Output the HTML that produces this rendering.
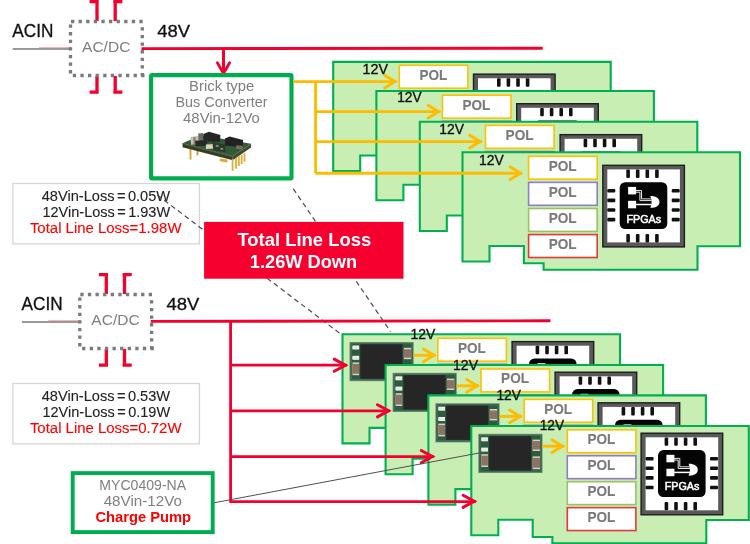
<!DOCTYPE html>
<html><head><meta charset="utf-8"><style>html,body{margin:0;padding:0;background:#fff;overflow:hidden}svg{display:block;will-change:transform}</style></head><body>
<svg width="750" height="544" viewBox="0 0 750 544" font-family="'Liberation Sans', sans-serif">
<rect width="750" height="544" fill="#fff"/>
<text x="12.30" y="37.30" font-size="17.74" fill="#111" font-weight="normal" textLength="41.09" lengthAdjust="spacingAndGlyphs" stroke="#111" stroke-width="0.3">ACIN</text>
<line x1="12.7" y1="49" x2="71.5" y2="49" stroke="#9a9a9a" stroke-width="2.2"/>
<line x1="39" y1="47.5" x2="71" y2="47.5" stroke="#f4a0a8" stroke-width="0.8"/>
<path d="M89.6 1.6 H98.7 M97 0 V21" stroke="#f3002e" stroke-width="3.3" fill="none"/>
<path d="M89.6 92.2 H98.7 M97 76 V93.8" stroke="#f3002e" stroke-width="3.3" fill="none"/>
<path d="M113.3 1.6 H122.4 M115.2 0 V21" stroke="#f3002e" stroke-width="3.3" fill="none"/>
<path d="M113.3 92.2 H122.4 M115.2 76 V93.8" stroke="#f3002e" stroke-width="3.3" fill="none"/>
<path d="M71 21.5 H145 M72.8 75.5 H145" stroke="#7a7a7a" stroke-width="3.3" stroke-dasharray="3.3 4.3" fill="none"/>
<path d="M70.5 24.5 V77 M142.3 27.3 V77" stroke="#7a7a7a" stroke-width="3.3" stroke-dasharray="3.3 4.3" fill="none"/>
<text x="82.00" y="52.00" font-size="15.42" fill="#7f7f7f" font-weight="normal" textLength="48.42" lengthAdjust="spacingAndGlyphs">AC/DC</text>
<text x="157.20" y="37.00" font-size="16.72" fill="#111" font-weight="normal" textLength="32.89" lengthAdjust="spacingAndGlyphs" stroke="#111" stroke-width="0.3">48V</text>
<line x1="141.5" y1="48.6" x2="542.7" y2="48.2" stroke="#f3002e" stroke-width="2.9"/>
<line x1="223.5" y1="48.6" x2="223.5" y2="73" stroke="#f3002e" stroke-width="3"/>
<path d="M217.4 62.8 L223.5 73.6 L229.6 62.8" stroke="#f3002e" stroke-width="2.8" fill="none" stroke-linecap="round"/>
<rect x="151.1" y="75.1" width="140.4" height="103.3" rx="1" fill="#fff" stroke="#00ad4e" stroke-width="4.1"/>
<text x="189.10" y="91.30" font-size="14.70" fill="#7f7f7f" font-weight="normal" textLength="65.10" lengthAdjust="spacingAndGlyphs">Brick type</text>
<text x="175.40" y="106.80" font-size="14.55" fill="#7f7f7f" font-weight="normal" textLength="92.13" lengthAdjust="spacingAndGlyphs">Bus Converter</text>
<text x="183.10" y="122.50" font-size="14.55" fill="#7f7f7f" font-weight="normal" textLength="76.67" lengthAdjust="spacingAndGlyphs">48Vin-12Vo</text>
<g>
<polygon points="189.51,146.54 191.44,146.54 191.44,159.58 189.51,159.58" fill="#d8a828"/>
<polygon points="196.54,149.94 198.36,149.94 198.36,155.39 196.54,155.39" fill="#c89a30"/>
<polygon points="182.48,143.14 232.71,156.29 232.71,160.15 182.48,147.22" fill="#3b3a29"/>
<polygon points="232.71,156.29 251.08,143.71 251.08,147.45 232.71,160.15" fill="#46492f"/>
<polygon points="182.48,143.14 201.08,135.20 251.08,143.71 232.71,156.29" fill="#315a38"/>
<polygon points="182.48,143.14 232.71,156.29 232.71,157.20 182.48,144.05" fill="#3d6a40"/>
<polygon points="219.78,158.45 227.38,159.58 227.38,162.41 219.78,161.28" fill="#d8aa35"/>
<polygon points="231.69,159.01 233.50,159.01 233.50,170.92 231.69,170.92" fill="#dcae3a"/>
<polygon points="235.09,157.88 236.90,157.88 236.90,168.65 235.09,168.65" fill="#dcae3a"/>
<polygon points="237.93,156.18 239.74,156.18 239.74,166.04 237.93,166.04" fill="#dcae3a"/>
<polygon points="240.76,154.71 242.57,154.71 242.57,164.12 240.76,164.12" fill="#dcae3a"/>
<polygon points="243.59,153.34 245.41,153.34 245.41,161.85 243.59,161.85" fill="#dcae3a"/>
<polygon points="190.31,136.90 200.51,135.43 201.30,143.71 191.10,144.84" fill="#c5c1b5"/>
<polygon points="193.14,137.24 195.63,137.02 196.09,144.05 193.59,144.27" fill="#85827a"/>
<polygon points="198.24,133.50 203.12,132.94 203.57,140.87 198.58,141.44" fill="#6a685e"/>
<polygon points="203.34,134.07 209.01,131.80 220.35,134.98 220.12,142.01 207.88,141.44 203.34,139.74" fill="#262626"/>
<polygon points="195.18,140.87 206.75,139.97 207.31,145.63 195.63,146.09" fill="#272727"/>
<polygon points="224.89,138.38 229.65,136.56 243.03,139.97 243.03,147.45 238.49,146.77 224.89,145.41" fill="#222"/>
<polygon points="205.84,144.50 214.68,144.05 214.91,148.58 206.07,149.04" fill="#dcd3b8"/>
<polygon points="236.22,145.18 242.80,145.63 242.80,149.38 236.22,149.04" fill="#7c6c58"/>
<polygon points="212.41,142.01 224.89,144.50 225.79,152.21 213.32,150.17" fill="#2c3a2c"/>
<polygon points="215.82,144.84 218.65,145.18 218.65,147.11 215.82,146.77" fill="#8a8a80"/>
<polygon points="220.35,147.68 223.19,148.13 223.19,149.94 220.35,149.49" fill="#8a8a80"/>
</g>
<rect x="12.9" y="183.5" width="186.5" height="60.4" fill="#fff" stroke="#d6d6d6" stroke-width="1.3"/>
<text x="41.70" y="200.80" font-size="14.70" fill="#222" font-weight="normal" textLength="128.46" lengthAdjust="spacingAndGlyphs" stroke="#222" stroke-width="0.1">48Vin-Loss = 0.05W</text>
<text x="42.40" y="216.80" font-size="14.70" fill="#222" font-weight="normal" textLength="127.76" lengthAdjust="spacingAndGlyphs" stroke="#222" stroke-width="0.1">12Vin-Loss = 1.93W</text>
<text x="29.90" y="232.80" font-size="14.70" fill="#ff0000" font-weight="normal" textLength="151.60" lengthAdjust="spacingAndGlyphs" stroke="#ff0000" stroke-width="0.1">Total Line Loss=1.98W</text>
<path d="M333.20 61.85 L610.70 61.85 L610.70 155.85 L568.20 155.85 L568.20 179.25 L414.30 179.25 L414.30 172.85 L394.60 172.85 L394.60 155.55 L360.20 155.55 L360.20 171.05 L333.20 171.05 Z" fill="#c8eeb4" stroke="#00b050" stroke-width="2.1"/>
<rect x="399.30" y="65.30" width="68.6" height="22.9" fill="#fff" stroke="#ffc000" stroke-width="1.6"/>
<text x="419.40" y="79.60" font-size="14.26" fill="#7a7a7a" font-weight="bold" textLength="27.91" lengthAdjust="spacingAndGlyphs" stroke="#7a7a7a" stroke-width="0.1">POL</text>
<rect x="399.30" y="91.40" width="68.6" height="22.9" fill="#fff" stroke="#8f7dc6" stroke-width="1.6"/>
<text x="419.40" y="105.70" font-size="14.26" fill="#7a7a7a" font-weight="bold" textLength="27.91" lengthAdjust="spacingAndGlyphs" stroke="#7a7a7a" stroke-width="0.1">POL</text>
<rect x="399.30" y="117.50" width="68.6" height="22.9" fill="#fff" stroke="#9cc068" stroke-width="1.6"/>
<text x="419.40" y="131.80" font-size="14.26" fill="#7a7a7a" font-weight="bold" textLength="27.91" lengthAdjust="spacingAndGlyphs" stroke="#7a7a7a" stroke-width="0.1">POL</text>
<rect x="399.30" y="143.60" width="68.6" height="22.9" fill="#fff" stroke="#e23a3a" stroke-width="1.6"/>
<text x="419.40" y="157.90" font-size="14.26" fill="#7a7a7a" font-weight="bold" textLength="27.91" lengthAdjust="spacingAndGlyphs" stroke="#7a7a7a" stroke-width="0.1">POL</text>
<rect x="472.80" y="73.45" width="83" height="83" fill="#1e1e1e"/>
<rect x="474.20" y="74.85" width="80.2" height="80.2" fill="#595959"/>
<rect x="478.00" y="78.25" width="72.6" height="73" fill="#fff"/>
<rect x="497.00" y="78.35" width="3.6" height="8.4" rx="1" fill="#111"/>
<rect x="497.00" y="142.85" width="3.6" height="8.4" rx="1" fill="#111"/>
<rect x="478.00" y="97.85" width="8" height="3.6" rx="1" fill="#111"/>
<rect x="542.40" y="97.85" width="8" height="3.6" rx="1" fill="#111"/>
<rect x="506.60" y="78.35" width="3.6" height="8.4" rx="1" fill="#111"/>
<rect x="506.60" y="142.85" width="3.6" height="8.4" rx="1" fill="#111"/>
<rect x="478.00" y="107.45" width="8" height="3.6" rx="1" fill="#111"/>
<rect x="542.40" y="107.45" width="8" height="3.6" rx="1" fill="#111"/>
<rect x="516.20" y="78.35" width="3.6" height="8.4" rx="1" fill="#111"/>
<rect x="516.20" y="142.85" width="3.6" height="8.4" rx="1" fill="#111"/>
<rect x="478.00" y="117.05" width="8" height="3.6" rx="1" fill="#111"/>
<rect x="542.40" y="117.05" width="8" height="3.6" rx="1" fill="#111"/>
<rect x="525.80" y="78.35" width="3.6" height="8.4" rx="1" fill="#111"/>
<rect x="525.80" y="142.85" width="3.6" height="8.4" rx="1" fill="#111"/>
<rect x="478.00" y="126.65" width="8" height="3.6" rx="1" fill="#111"/>
<rect x="542.40" y="126.65" width="8" height="3.6" rx="1" fill="#111"/>
<rect x="490.40" y="91.05" width="47.6" height="46.9" rx="5.5" fill="#050505"/>
<rect x="498.80" y="95.75" width="8" height="7.5" fill="#fff"/>
<rect x="498.80" y="109.65" width="8" height="7.5" fill="#fff"/>
<path d="M506.40 99.35 H512.20 V107.75 H522.40 M506.40 101.05 H510.60 V109.45 H522.40" stroke="#fff" stroke-width="0.9" fill="none"/>
<path d="M506.40 113.35 H522.40" stroke="#fff" stroke-width="1.5" fill="none"/>
<path d="M521.00 104.75 C526.40 104.55 530.20 107.05 530.20 110.75 C530.20 114.45 526.40 116.85 521.00 116.65 C522.80 113.05 522.80 108.45 521.00 104.75 Z" fill="#fff"/>
<text x="497.10" y="131.35" font-size="11.51" fill="#fff" font-weight="normal" textLength="34.68" lengthAdjust="spacingAndGlyphs" stroke="#fff" stroke-width="0.55">FPGAs</text>
<path d="M376.40 91.00 L653.90 91.00 L653.90 185.00 L611.40 185.00 L611.40 208.40 L457.50 208.40 L457.50 202.00 L437.80 202.00 L437.80 184.70 L403.40 184.70 L403.40 200.20 L376.40 200.20 Z" fill="#c8eeb4" stroke="#00b050" stroke-width="2.1"/>
<rect x="442.40" y="95.20" width="68.6" height="22.9" fill="#fff" stroke="#ffc000" stroke-width="1.6"/>
<text x="462.50" y="109.50" font-size="14.26" fill="#7a7a7a" font-weight="bold" textLength="27.91" lengthAdjust="spacingAndGlyphs" stroke="#7a7a7a" stroke-width="0.1">POL</text>
<rect x="442.40" y="121.30" width="68.6" height="22.9" fill="#fff" stroke="#8f7dc6" stroke-width="1.6"/>
<text x="462.50" y="135.60" font-size="14.26" fill="#7a7a7a" font-weight="bold" textLength="27.91" lengthAdjust="spacingAndGlyphs" stroke="#7a7a7a" stroke-width="0.1">POL</text>
<rect x="442.40" y="147.40" width="68.6" height="22.9" fill="#fff" stroke="#9cc068" stroke-width="1.6"/>
<text x="462.50" y="161.70" font-size="14.26" fill="#7a7a7a" font-weight="bold" textLength="27.91" lengthAdjust="spacingAndGlyphs" stroke="#7a7a7a" stroke-width="0.1">POL</text>
<rect x="442.40" y="173.50" width="68.6" height="22.9" fill="#fff" stroke="#e23a3a" stroke-width="1.6"/>
<text x="462.50" y="187.80" font-size="14.26" fill="#7a7a7a" font-weight="bold" textLength="27.91" lengthAdjust="spacingAndGlyphs" stroke="#7a7a7a" stroke-width="0.1">POL</text>
<rect x="516.00" y="103.00" width="83" height="83" fill="#1e1e1e"/>
<rect x="517.40" y="104.40" width="80.2" height="80.2" fill="#595959"/>
<rect x="521.20" y="107.80" width="72.6" height="73" fill="#fff"/>
<rect x="540.20" y="107.90" width="3.6" height="8.4" rx="1" fill="#111"/>
<rect x="540.20" y="172.40" width="3.6" height="8.4" rx="1" fill="#111"/>
<rect x="521.20" y="127.40" width="8" height="3.6" rx="1" fill="#111"/>
<rect x="585.60" y="127.40" width="8" height="3.6" rx="1" fill="#111"/>
<rect x="549.80" y="107.90" width="3.6" height="8.4" rx="1" fill="#111"/>
<rect x="549.80" y="172.40" width="3.6" height="8.4" rx="1" fill="#111"/>
<rect x="521.20" y="137.00" width="8" height="3.6" rx="1" fill="#111"/>
<rect x="585.60" y="137.00" width="8" height="3.6" rx="1" fill="#111"/>
<rect x="559.40" y="107.90" width="3.6" height="8.4" rx="1" fill="#111"/>
<rect x="559.40" y="172.40" width="3.6" height="8.4" rx="1" fill="#111"/>
<rect x="521.20" y="146.60" width="8" height="3.6" rx="1" fill="#111"/>
<rect x="585.60" y="146.60" width="8" height="3.6" rx="1" fill="#111"/>
<rect x="569.00" y="107.90" width="3.6" height="8.4" rx="1" fill="#111"/>
<rect x="569.00" y="172.40" width="3.6" height="8.4" rx="1" fill="#111"/>
<rect x="521.20" y="156.20" width="8" height="3.6" rx="1" fill="#111"/>
<rect x="585.60" y="156.20" width="8" height="3.6" rx="1" fill="#111"/>
<rect x="533.60" y="120.60" width="47.6" height="46.9" rx="5.5" fill="#050505"/>
<rect x="542.00" y="125.30" width="8" height="7.5" fill="#fff"/>
<rect x="542.00" y="139.20" width="8" height="7.5" fill="#fff"/>
<path d="M549.60 128.90 H555.40 V137.30 H565.60 M549.60 130.60 H553.80 V139.00 H565.60" stroke="#fff" stroke-width="0.9" fill="none"/>
<path d="M549.60 142.90 H565.60" stroke="#fff" stroke-width="1.5" fill="none"/>
<path d="M564.20 134.30 C569.60 134.10 573.40 136.60 573.40 140.30 C573.40 144.00 569.60 146.40 564.20 146.20 C566.00 142.60 566.00 138.00 564.20 134.30 Z" fill="#fff"/>
<text x="540.30" y="160.90" font-size="11.51" fill="#fff" font-weight="normal" textLength="34.68" lengthAdjust="spacingAndGlyphs" stroke="#fff" stroke-width="0.55">FPGAs</text>
<path d="M419.80 121.75 L697.30 121.75 L697.30 215.75 L654.80 215.75 L654.80 239.15 L500.90 239.15 L500.90 232.75 L481.20 232.75 L481.20 215.45 L446.80 215.45 L446.80 230.95 L419.80 230.95 Z" fill="#c8eeb4" stroke="#00b050" stroke-width="2.1"/>
<rect x="485.50" y="125.40" width="68.6" height="22.9" fill="#fff" stroke="#ffc000" stroke-width="1.6"/>
<text x="505.60" y="139.70" font-size="14.26" fill="#7a7a7a" font-weight="bold" textLength="27.91" lengthAdjust="spacingAndGlyphs" stroke="#7a7a7a" stroke-width="0.1">POL</text>
<rect x="485.50" y="151.50" width="68.6" height="22.9" fill="#fff" stroke="#8f7dc6" stroke-width="1.6"/>
<text x="505.60" y="165.80" font-size="14.26" fill="#7a7a7a" font-weight="bold" textLength="27.91" lengthAdjust="spacingAndGlyphs" stroke="#7a7a7a" stroke-width="0.1">POL</text>
<rect x="485.50" y="177.60" width="68.6" height="22.9" fill="#fff" stroke="#9cc068" stroke-width="1.6"/>
<text x="505.60" y="191.90" font-size="14.26" fill="#7a7a7a" font-weight="bold" textLength="27.91" lengthAdjust="spacingAndGlyphs" stroke="#7a7a7a" stroke-width="0.1">POL</text>
<rect x="485.50" y="203.70" width="68.6" height="22.9" fill="#fff" stroke="#e23a3a" stroke-width="1.6"/>
<text x="505.60" y="218.00" font-size="14.26" fill="#7a7a7a" font-weight="bold" textLength="27.91" lengthAdjust="spacingAndGlyphs" stroke="#7a7a7a" stroke-width="0.1">POL</text>
<rect x="559.40" y="133.95" width="83" height="83" fill="#1e1e1e"/>
<rect x="560.80" y="135.35" width="80.2" height="80.2" fill="#595959"/>
<rect x="564.60" y="138.75" width="72.6" height="73" fill="#fff"/>
<rect x="583.60" y="138.85" width="3.6" height="8.4" rx="1" fill="#111"/>
<rect x="583.60" y="203.35" width="3.6" height="8.4" rx="1" fill="#111"/>
<rect x="564.60" y="158.35" width="8" height="3.6" rx="1" fill="#111"/>
<rect x="629.00" y="158.35" width="8" height="3.6" rx="1" fill="#111"/>
<rect x="593.20" y="138.85" width="3.6" height="8.4" rx="1" fill="#111"/>
<rect x="593.20" y="203.35" width="3.6" height="8.4" rx="1" fill="#111"/>
<rect x="564.60" y="167.95" width="8" height="3.6" rx="1" fill="#111"/>
<rect x="629.00" y="167.95" width="8" height="3.6" rx="1" fill="#111"/>
<rect x="602.80" y="138.85" width="3.6" height="8.4" rx="1" fill="#111"/>
<rect x="602.80" y="203.35" width="3.6" height="8.4" rx="1" fill="#111"/>
<rect x="564.60" y="177.55" width="8" height="3.6" rx="1" fill="#111"/>
<rect x="629.00" y="177.55" width="8" height="3.6" rx="1" fill="#111"/>
<rect x="612.40" y="138.85" width="3.6" height="8.4" rx="1" fill="#111"/>
<rect x="612.40" y="203.35" width="3.6" height="8.4" rx="1" fill="#111"/>
<rect x="564.60" y="187.15" width="8" height="3.6" rx="1" fill="#111"/>
<rect x="629.00" y="187.15" width="8" height="3.6" rx="1" fill="#111"/>
<rect x="577.00" y="151.55" width="47.6" height="46.9" rx="5.5" fill="#050505"/>
<rect x="585.40" y="156.25" width="8" height="7.5" fill="#fff"/>
<rect x="585.40" y="170.15" width="8" height="7.5" fill="#fff"/>
<path d="M593.00 159.85 H598.80 V168.25 H609.00 M593.00 161.55 H597.20 V169.95 H609.00" stroke="#fff" stroke-width="0.9" fill="none"/>
<path d="M593.00 173.85 H609.00" stroke="#fff" stroke-width="1.5" fill="none"/>
<path d="M607.60 165.25 C613.00 165.05 616.80 167.55 616.80 171.25 C616.80 174.95 613.00 177.35 607.60 177.15 C609.40 173.55 609.40 168.95 607.60 165.25 Z" fill="#fff"/>
<text x="583.70" y="191.85" font-size="11.51" fill="#fff" font-weight="normal" textLength="34.68" lengthAdjust="spacingAndGlyphs" stroke="#fff" stroke-width="0.55">FPGAs</text>
<path d="M462.50 152.30 L740.00 152.30 L740.00 246.30 L697.50 246.30 L697.50 269.70 L543.60 269.70 L543.60 263.30 L523.90 263.30 L523.90 246.00 L489.50 246.00 L489.50 261.50 L462.50 261.50 Z" fill="#c8eeb4" stroke="#00b050" stroke-width="2.1"/>
<rect x="528.60" y="156.30" width="68.6" height="22.9" fill="#fff" stroke="#ffc000" stroke-width="1.6"/>
<text x="548.70" y="170.60" font-size="14.26" fill="#7a7a7a" font-weight="bold" textLength="27.91" lengthAdjust="spacingAndGlyphs" stroke="#7a7a7a" stroke-width="0.1">POL</text>
<rect x="528.60" y="182.40" width="68.6" height="22.9" fill="#fff" stroke="#8f7dc6" stroke-width="1.6"/>
<text x="548.70" y="196.70" font-size="14.26" fill="#7a7a7a" font-weight="bold" textLength="27.91" lengthAdjust="spacingAndGlyphs" stroke="#7a7a7a" stroke-width="0.1">POL</text>
<rect x="528.60" y="208.50" width="68.6" height="22.9" fill="#fff" stroke="#9cc068" stroke-width="1.6"/>
<text x="548.70" y="222.80" font-size="14.26" fill="#7a7a7a" font-weight="bold" textLength="27.91" lengthAdjust="spacingAndGlyphs" stroke="#7a7a7a" stroke-width="0.1">POL</text>
<rect x="528.60" y="234.60" width="68.6" height="22.9" fill="#fff" stroke="#e23a3a" stroke-width="1.6"/>
<text x="548.70" y="248.90" font-size="14.26" fill="#7a7a7a" font-weight="bold" textLength="27.91" lengthAdjust="spacingAndGlyphs" stroke="#7a7a7a" stroke-width="0.1">POL</text>
<rect x="602.10" y="164.60" width="83" height="83" fill="#1e1e1e"/>
<rect x="603.50" y="166.00" width="80.2" height="80.2" fill="#595959"/>
<rect x="607.30" y="169.40" width="72.6" height="73" fill="#fff"/>
<rect x="626.30" y="169.50" width="3.6" height="8.4" rx="1" fill="#111"/>
<rect x="626.30" y="234.00" width="3.6" height="8.4" rx="1" fill="#111"/>
<rect x="607.30" y="189.00" width="8" height="3.6" rx="1" fill="#111"/>
<rect x="671.70" y="189.00" width="8" height="3.6" rx="1" fill="#111"/>
<rect x="635.90" y="169.50" width="3.6" height="8.4" rx="1" fill="#111"/>
<rect x="635.90" y="234.00" width="3.6" height="8.4" rx="1" fill="#111"/>
<rect x="607.30" y="198.60" width="8" height="3.6" rx="1" fill="#111"/>
<rect x="671.70" y="198.60" width="8" height="3.6" rx="1" fill="#111"/>
<rect x="645.50" y="169.50" width="3.6" height="8.4" rx="1" fill="#111"/>
<rect x="645.50" y="234.00" width="3.6" height="8.4" rx="1" fill="#111"/>
<rect x="607.30" y="208.20" width="8" height="3.6" rx="1" fill="#111"/>
<rect x="671.70" y="208.20" width="8" height="3.6" rx="1" fill="#111"/>
<rect x="655.10" y="169.50" width="3.6" height="8.4" rx="1" fill="#111"/>
<rect x="655.10" y="234.00" width="3.6" height="8.4" rx="1" fill="#111"/>
<rect x="607.30" y="217.80" width="8" height="3.6" rx="1" fill="#111"/>
<rect x="671.70" y="217.80" width="8" height="3.6" rx="1" fill="#111"/>
<rect x="619.70" y="182.20" width="47.6" height="46.9" rx="5.5" fill="#050505"/>
<rect x="628.10" y="186.90" width="8" height="7.5" fill="#fff"/>
<rect x="628.10" y="200.80" width="8" height="7.5" fill="#fff"/>
<path d="M635.70 190.50 H641.50 V198.90 H651.70 M635.70 192.20 H639.90 V200.60 H651.70" stroke="#fff" stroke-width="0.9" fill="none"/>
<path d="M635.70 204.50 H651.70" stroke="#fff" stroke-width="1.5" fill="none"/>
<path d="M650.30 195.90 C655.70 195.70 659.50 198.20 659.50 201.90 C659.50 205.60 655.70 208.00 650.30 207.80 C652.10 204.20 652.10 199.60 650.30 195.90 Z" fill="#fff"/>
<text x="626.40" y="222.50" font-size="11.51" fill="#fff" font-weight="normal" textLength="34.68" lengthAdjust="spacingAndGlyphs" stroke="#fff" stroke-width="0.55">FPGAs</text>
<path d="M293.4 81.6 H396 M315.6 81.6 V173.2 M315.6 111.6 H440 M315.6 141.6 H482 M315.6 173.2 H522" stroke="#ffbb00" stroke-width="2.9" fill="none" stroke-linejoin="round"/>
<path d="M384.61 75.20 L395.11 81.60 L384.61 88.00" stroke="#ffbb00" stroke-width="2.9" fill="none" stroke-linecap="round" stroke-linejoin="miter"/>
<path d="M428.11 105.20 L438.61 111.60 L428.11 118.00" stroke="#ffbb00" stroke-width="2.9" fill="none" stroke-linecap="round" stroke-linejoin="miter"/>
<path d="M469.61 135.20 L480.11 141.60 L469.61 148.00" stroke="#ffbb00" stroke-width="2.9" fill="none" stroke-linecap="round" stroke-linejoin="miter"/>
<path d="M510.01 166.80 L520.51 173.20 L510.01 179.60" stroke="#ffbb00" stroke-width="2.9" fill="none" stroke-linecap="round" stroke-linejoin="miter"/>
<text x="362.50" y="73.60" font-size="14.26" fill="#111" font-weight="normal" textLength="25.49" lengthAdjust="spacingAndGlyphs" stroke="#111" stroke-width="0.35">12V</text>
<text x="397.20" y="102.40" font-size="14.26" fill="#111" font-weight="normal" textLength="24.39" lengthAdjust="spacingAndGlyphs" stroke="#111" stroke-width="0.35">12V</text>
<text x="439.30" y="133.60" font-size="14.26" fill="#111" font-weight="normal" textLength="24.69" lengthAdjust="spacingAndGlyphs" stroke="#111" stroke-width="0.35">12V</text>
<text x="479.10" y="165.20" font-size="14.41" fill="#111" font-weight="normal" textLength="24.69" lengthAdjust="spacingAndGlyphs" stroke="#111" stroke-width="0.35">12V</text>
<path d="M293.3 188.8 L390.5 331.6 M157.3 195 L340.9 334.2" stroke="#4a4a4a" stroke-width="1.2" stroke-dasharray="5 3.6" fill="none"/>
<rect x="204.1" y="221.9" width="199.4" height="56.8" fill="#f6002f"/>
<text x="237.40" y="246.00" font-size="18.90" fill="#fff" font-weight="bold" textLength="133.80" lengthAdjust="spacingAndGlyphs">Total Line Loss</text>
<text x="249.80" y="268.00" font-size="18.32" fill="#fff" font-weight="bold" textLength="107.39" lengthAdjust="spacingAndGlyphs">1.26W Down</text>
<text x="21.60" y="310.30" font-size="17.74" fill="#111" font-weight="normal" textLength="41.09" lengthAdjust="spacingAndGlyphs" stroke="#111" stroke-width="0.3">ACIN</text>
<line x1="22.0" y1="322" x2="80.8" y2="322" stroke="#9a9a9a" stroke-width="2.2"/>
<line x1="48.3" y1="320.5" x2="80.3" y2="320.5" stroke="#f4a0a8" stroke-width="0.8"/>
<path d="M98.89999999999999 274.6 H108.0 M106.3 273 V294" stroke="#f3002e" stroke-width="3.3" fill="none"/>
<path d="M98.89999999999999 365.2 H108.0 M106.3 349 V366.8" stroke="#f3002e" stroke-width="3.3" fill="none"/>
<path d="M122.6 274.6 H131.70000000000002 M124.5 273 V294" stroke="#f3002e" stroke-width="3.3" fill="none"/>
<path d="M122.6 365.2 H131.70000000000002 M124.5 349 V366.8" stroke="#f3002e" stroke-width="3.3" fill="none"/>
<path d="M80.3 294.5 H154.3 M82.1 348.5 H154.3" stroke="#7a7a7a" stroke-width="3.3" stroke-dasharray="3.3 4.3" fill="none"/>
<path d="M79.8 297.5 V350 M151.60000000000002 300.3 V350" stroke="#7a7a7a" stroke-width="3.3" stroke-dasharray="3.3 4.3" fill="none"/>
<text x="91.30" y="325.00" font-size="15.42" fill="#7f7f7f" font-weight="normal" textLength="48.42" lengthAdjust="spacingAndGlyphs">AC/DC</text>
<text x="166.50" y="310.00" font-size="16.72" fill="#111" font-weight="normal" textLength="32.89" lengthAdjust="spacingAndGlyphs" stroke="#111" stroke-width="0.3">48V</text>
<rect x="12.9" y="383.5" width="186.5" height="60.4" fill="#fff" stroke="#d6d6d6" stroke-width="1.3"/>
<text x="41.70" y="400.80" font-size="14.70" fill="#222" font-weight="normal" textLength="128.46" lengthAdjust="spacingAndGlyphs" stroke="#222" stroke-width="0.1">48Vin-Loss = 0.53W</text>
<text x="42.40" y="416.80" font-size="14.70" fill="#222" font-weight="normal" textLength="127.76" lengthAdjust="spacingAndGlyphs" stroke="#222" stroke-width="0.1">12Vin-Loss = 0.19W</text>
<text x="29.90" y="432.80" font-size="14.70" fill="#ff0000" font-weight="normal" textLength="151.60" lengthAdjust="spacingAndGlyphs" stroke="#ff0000" stroke-width="0.1">Total Line Loss=0.72W</text>
<line x1="150.8" y1="321.4" x2="550.4" y2="320.8" stroke="#f3002e" stroke-width="2.9"/>
<path d="M342.50 334.20 L620.00 334.20 L620.00 428.20 L577.50 428.20 L577.50 451.60 L423.60 451.60 L423.60 445.20 L403.90 445.20 L403.90 427.90 L369.50 427.90 L369.50 443.40 L342.50 443.40 Z" fill="#c8eeb4" stroke="#00b050" stroke-width="2.1"/>
<rect x="437.80" y="338.30" width="68.6" height="22.9" fill="#fff" stroke="#ffc000" stroke-width="1.6"/>
<text x="457.90" y="352.60" font-size="14.26" fill="#7a7a7a" font-weight="bold" textLength="27.91" lengthAdjust="spacingAndGlyphs" stroke="#7a7a7a" stroke-width="0.1">POL</text>
<rect x="437.80" y="364.25" width="68.6" height="22.9" fill="#fff" stroke="#8f7dc6" stroke-width="1.6"/>
<text x="457.90" y="378.55" font-size="14.26" fill="#7a7a7a" font-weight="bold" textLength="27.91" lengthAdjust="spacingAndGlyphs" stroke="#7a7a7a" stroke-width="0.1">POL</text>
<rect x="437.80" y="390.20" width="68.6" height="22.9" fill="#fff" stroke="#9cc068" stroke-width="1.6"/>
<text x="457.90" y="404.50" font-size="14.26" fill="#7a7a7a" font-weight="bold" textLength="27.91" lengthAdjust="spacingAndGlyphs" stroke="#7a7a7a" stroke-width="0.1">POL</text>
<rect x="437.80" y="416.15" width="68.6" height="22.9" fill="#fff" stroke="#e23a3a" stroke-width="1.6"/>
<text x="457.90" y="430.45" font-size="14.26" fill="#7a7a7a" font-weight="bold" textLength="27.91" lengthAdjust="spacingAndGlyphs" stroke="#7a7a7a" stroke-width="0.1">POL</text>
<rect x="511.40" y="340.90" width="83" height="83" fill="#1e1e1e"/>
<rect x="512.80" y="342.30" width="80.2" height="80.2" fill="#595959"/>
<rect x="516.60" y="345.70" width="72.6" height="73" fill="#fff"/>
<rect x="535.60" y="345.80" width="3.6" height="8.4" rx="1" fill="#111"/>
<rect x="535.60" y="410.30" width="3.6" height="8.4" rx="1" fill="#111"/>
<rect x="516.60" y="365.30" width="8" height="3.6" rx="1" fill="#111"/>
<rect x="581.00" y="365.30" width="8" height="3.6" rx="1" fill="#111"/>
<rect x="545.20" y="345.80" width="3.6" height="8.4" rx="1" fill="#111"/>
<rect x="545.20" y="410.30" width="3.6" height="8.4" rx="1" fill="#111"/>
<rect x="516.60" y="374.90" width="8" height="3.6" rx="1" fill="#111"/>
<rect x="581.00" y="374.90" width="8" height="3.6" rx="1" fill="#111"/>
<rect x="554.80" y="345.80" width="3.6" height="8.4" rx="1" fill="#111"/>
<rect x="554.80" y="410.30" width="3.6" height="8.4" rx="1" fill="#111"/>
<rect x="516.60" y="384.50" width="8" height="3.6" rx="1" fill="#111"/>
<rect x="581.00" y="384.50" width="8" height="3.6" rx="1" fill="#111"/>
<rect x="564.40" y="345.80" width="3.6" height="8.4" rx="1" fill="#111"/>
<rect x="564.40" y="410.30" width="3.6" height="8.4" rx="1" fill="#111"/>
<rect x="516.60" y="394.10" width="8" height="3.6" rx="1" fill="#111"/>
<rect x="581.00" y="394.10" width="8" height="3.6" rx="1" fill="#111"/>
<rect x="529.00" y="358.50" width="47.6" height="46.9" rx="5.5" fill="#050505"/>
<rect x="537.40" y="363.20" width="8" height="7.5" fill="#fff"/>
<rect x="537.40" y="377.10" width="8" height="7.5" fill="#fff"/>
<path d="M545.00 366.80 H550.80 V375.20 H561.00 M545.00 368.50 H549.20 V376.90 H561.00" stroke="#fff" stroke-width="0.9" fill="none"/>
<path d="M545.00 380.80 H561.00" stroke="#fff" stroke-width="1.5" fill="none"/>
<path d="M559.60 372.20 C565.00 372.00 568.80 374.50 568.80 378.20 C568.80 381.90 565.00 384.30 559.60 384.10 C561.40 380.50 561.40 375.90 559.60 372.20 Z" fill="#fff"/>
<text x="535.70" y="398.80" font-size="11.51" fill="#fff" font-weight="normal" textLength="34.68" lengthAdjust="spacingAndGlyphs" stroke="#fff" stroke-width="0.55">FPGAs</text>
<rect x="349.50" y="342.00" width="64.2" height="39.2" fill="#6d8d7d"/>
<rect x="350.40" y="342.90" width="62.4" height="37.4" fill="#2d5b3d"/>
<rect x="351.30" y="343.80" width="60.6" height="35.6" fill="none" stroke="#4f7a60" stroke-width="0.6"/>
<rect x="360.30" y="344.30" width="42.1" height="34.4" fill="#262626"/>
<rect x="352.50" y="345.50" width="6.6" height="4" fill="#f4f4f0"/>
<rect x="352.50" y="346.30" width="6.6" height="2.40" fill="#e8e8e2"/>
<rect x="352.50" y="355.80" width="6.6" height="4" fill="#f4f4f0"/>
<rect x="352.50" y="356.60" width="6.6" height="2.40" fill="#e8e8e2"/>
<rect x="352.50" y="362.40" width="6.6" height="12.8" fill="#d6d0c8"/>
<rect x="352.50" y="363.90" width="6.6" height="9.80" fill="#8c7262"/>
<rect x="403.80" y="347.80" width="7.4" height="11.4" fill="#d6d0c8"/>
<rect x="403.80" y="349.30" width="7.4" height="8.40" fill="#8c7262"/>
<rect x="403.80" y="364.60" width="7.4" height="12.8" fill="#d6d0c8"/>
<rect x="403.80" y="366.10" width="7.4" height="9.80" fill="#8c7262"/>
<path d="M385.60 365.00 L663.10 365.00 L663.10 459.00 L620.60 459.00 L620.60 482.40 L466.70 482.40 L466.70 476.00 L447.00 476.00 L447.00 458.70 L412.60 458.70 L412.60 474.20 L385.60 474.20 Z" fill="#c8eeb4" stroke="#00b050" stroke-width="2.1"/>
<rect x="481.00" y="369.00" width="68.6" height="22.9" fill="#fff" stroke="#ffc000" stroke-width="1.6"/>
<text x="501.10" y="383.30" font-size="14.26" fill="#7a7a7a" font-weight="bold" textLength="27.91" lengthAdjust="spacingAndGlyphs" stroke="#7a7a7a" stroke-width="0.1">POL</text>
<rect x="481.00" y="394.95" width="68.6" height="22.9" fill="#fff" stroke="#8f7dc6" stroke-width="1.6"/>
<text x="501.10" y="409.25" font-size="14.26" fill="#7a7a7a" font-weight="bold" textLength="27.91" lengthAdjust="spacingAndGlyphs" stroke="#7a7a7a" stroke-width="0.1">POL</text>
<rect x="481.00" y="420.90" width="68.6" height="22.9" fill="#fff" stroke="#9cc068" stroke-width="1.6"/>
<text x="501.10" y="435.20" font-size="14.26" fill="#7a7a7a" font-weight="bold" textLength="27.91" lengthAdjust="spacingAndGlyphs" stroke="#7a7a7a" stroke-width="0.1">POL</text>
<rect x="481.00" y="446.85" width="68.6" height="22.9" fill="#fff" stroke="#e23a3a" stroke-width="1.6"/>
<text x="501.10" y="461.15" font-size="14.26" fill="#7a7a7a" font-weight="bold" textLength="27.91" lengthAdjust="spacingAndGlyphs" stroke="#7a7a7a" stroke-width="0.1">POL</text>
<rect x="554.40" y="371.50" width="83" height="83" fill="#1e1e1e"/>
<rect x="555.80" y="372.90" width="80.2" height="80.2" fill="#595959"/>
<rect x="559.60" y="376.30" width="72.6" height="73" fill="#fff"/>
<rect x="578.60" y="376.40" width="3.6" height="8.4" rx="1" fill="#111"/>
<rect x="578.60" y="440.90" width="3.6" height="8.4" rx="1" fill="#111"/>
<rect x="559.60" y="395.90" width="8" height="3.6" rx="1" fill="#111"/>
<rect x="624.00" y="395.90" width="8" height="3.6" rx="1" fill="#111"/>
<rect x="588.20" y="376.40" width="3.6" height="8.4" rx="1" fill="#111"/>
<rect x="588.20" y="440.90" width="3.6" height="8.4" rx="1" fill="#111"/>
<rect x="559.60" y="405.50" width="8" height="3.6" rx="1" fill="#111"/>
<rect x="624.00" y="405.50" width="8" height="3.6" rx="1" fill="#111"/>
<rect x="597.80" y="376.40" width="3.6" height="8.4" rx="1" fill="#111"/>
<rect x="597.80" y="440.90" width="3.6" height="8.4" rx="1" fill="#111"/>
<rect x="559.60" y="415.10" width="8" height="3.6" rx="1" fill="#111"/>
<rect x="624.00" y="415.10" width="8" height="3.6" rx="1" fill="#111"/>
<rect x="607.40" y="376.40" width="3.6" height="8.4" rx="1" fill="#111"/>
<rect x="607.40" y="440.90" width="3.6" height="8.4" rx="1" fill="#111"/>
<rect x="559.60" y="424.70" width="8" height="3.6" rx="1" fill="#111"/>
<rect x="624.00" y="424.70" width="8" height="3.6" rx="1" fill="#111"/>
<rect x="572.00" y="389.10" width="47.6" height="46.9" rx="5.5" fill="#050505"/>
<rect x="580.40" y="393.80" width="8" height="7.5" fill="#fff"/>
<rect x="580.40" y="407.70" width="8" height="7.5" fill="#fff"/>
<path d="M588.00 397.40 H593.80 V405.80 H604.00 M588.00 399.10 H592.20 V407.50 H604.00" stroke="#fff" stroke-width="0.9" fill="none"/>
<path d="M588.00 411.40 H604.00" stroke="#fff" stroke-width="1.5" fill="none"/>
<path d="M602.60 402.80 C608.00 402.60 611.80 405.10 611.80 408.80 C611.80 412.50 608.00 414.90 602.60 414.70 C604.40 411.10 604.40 406.50 602.60 402.80 Z" fill="#fff"/>
<text x="578.70" y="429.40" font-size="11.51" fill="#fff" font-weight="normal" textLength="34.68" lengthAdjust="spacingAndGlyphs" stroke="#fff" stroke-width="0.55">FPGAs</text>
<rect x="392.60" y="372.80" width="64.2" height="39.2" fill="#6d8d7d"/>
<rect x="393.50" y="373.70" width="62.4" height="37.4" fill="#2d5b3d"/>
<rect x="394.40" y="374.60" width="60.6" height="35.6" fill="none" stroke="#4f7a60" stroke-width="0.6"/>
<rect x="403.40" y="375.10" width="42.1" height="34.4" fill="#262626"/>
<rect x="395.60" y="376.30" width="6.6" height="4" fill="#f4f4f0"/>
<rect x="395.60" y="377.10" width="6.6" height="2.40" fill="#e8e8e2"/>
<rect x="395.60" y="386.60" width="6.6" height="4" fill="#f4f4f0"/>
<rect x="395.60" y="387.40" width="6.6" height="2.40" fill="#e8e8e2"/>
<rect x="395.60" y="393.20" width="6.6" height="12.8" fill="#d6d0c8"/>
<rect x="395.60" y="394.70" width="6.6" height="9.80" fill="#8c7262"/>
<rect x="446.90" y="378.60" width="7.4" height="11.4" fill="#d6d0c8"/>
<rect x="446.90" y="380.10" width="7.4" height="8.40" fill="#8c7262"/>
<rect x="446.90" y="395.40" width="7.4" height="12.8" fill="#d6d0c8"/>
<rect x="446.90" y="396.90" width="7.4" height="9.80" fill="#8c7262"/>
<path d="M428.40 395.40 L705.90 395.40 L705.90 489.40 L663.40 489.40 L663.40 512.80 L509.50 512.80 L509.50 506.40 L489.80 506.40 L489.80 489.10 L455.40 489.10 L455.40 504.60 L428.40 504.60 Z" fill="#c8eeb4" stroke="#00b050" stroke-width="2.1"/>
<rect x="524.10" y="399.40" width="68.6" height="22.9" fill="#fff" stroke="#ffc000" stroke-width="1.6"/>
<text x="544.20" y="413.70" font-size="14.26" fill="#7a7a7a" font-weight="bold" textLength="27.91" lengthAdjust="spacingAndGlyphs" stroke="#7a7a7a" stroke-width="0.1">POL</text>
<rect x="524.10" y="425.35" width="68.6" height="22.9" fill="#fff" stroke="#8f7dc6" stroke-width="1.6"/>
<text x="544.20" y="439.65" font-size="14.26" fill="#7a7a7a" font-weight="bold" textLength="27.91" lengthAdjust="spacingAndGlyphs" stroke="#7a7a7a" stroke-width="0.1">POL</text>
<rect x="524.10" y="451.30" width="68.6" height="22.9" fill="#fff" stroke="#9cc068" stroke-width="1.6"/>
<text x="544.20" y="465.60" font-size="14.26" fill="#7a7a7a" font-weight="bold" textLength="27.91" lengthAdjust="spacingAndGlyphs" stroke="#7a7a7a" stroke-width="0.1">POL</text>
<rect x="524.10" y="477.25" width="68.6" height="22.9" fill="#fff" stroke="#e23a3a" stroke-width="1.6"/>
<text x="544.20" y="491.55" font-size="14.26" fill="#7a7a7a" font-weight="bold" textLength="27.91" lengthAdjust="spacingAndGlyphs" stroke="#7a7a7a" stroke-width="0.1">POL</text>
<rect x="597.40" y="402.10" width="83" height="83" fill="#1e1e1e"/>
<rect x="598.80" y="403.50" width="80.2" height="80.2" fill="#595959"/>
<rect x="602.60" y="406.90" width="72.6" height="73" fill="#fff"/>
<rect x="621.60" y="407.00" width="3.6" height="8.4" rx="1" fill="#111"/>
<rect x="621.60" y="471.50" width="3.6" height="8.4" rx="1" fill="#111"/>
<rect x="602.60" y="426.50" width="8" height="3.6" rx="1" fill="#111"/>
<rect x="667.00" y="426.50" width="8" height="3.6" rx="1" fill="#111"/>
<rect x="631.20" y="407.00" width="3.6" height="8.4" rx="1" fill="#111"/>
<rect x="631.20" y="471.50" width="3.6" height="8.4" rx="1" fill="#111"/>
<rect x="602.60" y="436.10" width="8" height="3.6" rx="1" fill="#111"/>
<rect x="667.00" y="436.10" width="8" height="3.6" rx="1" fill="#111"/>
<rect x="640.80" y="407.00" width="3.6" height="8.4" rx="1" fill="#111"/>
<rect x="640.80" y="471.50" width="3.6" height="8.4" rx="1" fill="#111"/>
<rect x="602.60" y="445.70" width="8" height="3.6" rx="1" fill="#111"/>
<rect x="667.00" y="445.70" width="8" height="3.6" rx="1" fill="#111"/>
<rect x="650.40" y="407.00" width="3.6" height="8.4" rx="1" fill="#111"/>
<rect x="650.40" y="471.50" width="3.6" height="8.4" rx="1" fill="#111"/>
<rect x="602.60" y="455.30" width="8" height="3.6" rx="1" fill="#111"/>
<rect x="667.00" y="455.30" width="8" height="3.6" rx="1" fill="#111"/>
<rect x="615.00" y="419.70" width="47.6" height="46.9" rx="5.5" fill="#050505"/>
<rect x="623.40" y="424.40" width="8" height="7.5" fill="#fff"/>
<rect x="623.40" y="438.30" width="8" height="7.5" fill="#fff"/>
<path d="M631.00 428.00 H636.80 V436.40 H647.00 M631.00 429.70 H635.20 V438.10 H647.00" stroke="#fff" stroke-width="0.9" fill="none"/>
<path d="M631.00 442.00 H647.00" stroke="#fff" stroke-width="1.5" fill="none"/>
<path d="M645.60 433.40 C651.00 433.20 654.80 435.70 654.80 439.40 C654.80 443.10 651.00 445.50 645.60 445.30 C647.40 441.70 647.40 437.10 645.60 433.40 Z" fill="#fff"/>
<text x="621.70" y="460.00" font-size="11.51" fill="#fff" font-weight="normal" textLength="34.68" lengthAdjust="spacingAndGlyphs" stroke="#fff" stroke-width="0.55">FPGAs</text>
<rect x="435.40" y="403.20" width="64.2" height="39.2" fill="#6d8d7d"/>
<rect x="436.30" y="404.10" width="62.4" height="37.4" fill="#2d5b3d"/>
<rect x="437.20" y="405.00" width="60.6" height="35.6" fill="none" stroke="#4f7a60" stroke-width="0.6"/>
<rect x="446.20" y="405.50" width="42.1" height="34.4" fill="#262626"/>
<rect x="438.40" y="406.70" width="6.6" height="4" fill="#f4f4f0"/>
<rect x="438.40" y="407.50" width="6.6" height="2.40" fill="#e8e8e2"/>
<rect x="438.40" y="417.00" width="6.6" height="4" fill="#f4f4f0"/>
<rect x="438.40" y="417.80" width="6.6" height="2.40" fill="#e8e8e2"/>
<rect x="438.40" y="423.60" width="6.6" height="12.8" fill="#d6d0c8"/>
<rect x="438.40" y="425.10" width="6.6" height="9.80" fill="#8c7262"/>
<rect x="489.70" y="409.00" width="7.4" height="11.4" fill="#d6d0c8"/>
<rect x="489.70" y="410.50" width="7.4" height="8.40" fill="#8c7262"/>
<rect x="489.70" y="425.80" width="7.4" height="12.8" fill="#d6d0c8"/>
<rect x="489.70" y="427.30" width="7.4" height="9.80" fill="#8c7262"/>
<path d="M471.30 426.00 L748.80 426.00 L748.80 520.00 L706.30 520.00 L706.30 543.40 L552.40 543.40 L552.40 537.00 L532.70 537.00 L532.70 519.70 L498.30 519.70 L498.30 535.20 L471.30 535.20 Z" fill="#c8eeb4" stroke="#00b050" stroke-width="2.1"/>
<rect x="567.30" y="429.80" width="68.6" height="22.9" fill="#fff" stroke="#ffc000" stroke-width="1.6"/>
<text x="587.40" y="444.10" font-size="14.26" fill="#7a7a7a" font-weight="bold" textLength="27.91" lengthAdjust="spacingAndGlyphs" stroke="#7a7a7a" stroke-width="0.1">POL</text>
<rect x="567.30" y="455.75" width="68.6" height="22.9" fill="#fff" stroke="#8f7dc6" stroke-width="1.6"/>
<text x="587.40" y="470.05" font-size="14.26" fill="#7a7a7a" font-weight="bold" textLength="27.91" lengthAdjust="spacingAndGlyphs" stroke="#7a7a7a" stroke-width="0.1">POL</text>
<rect x="567.30" y="481.70" width="68.6" height="22.9" fill="#fff" stroke="#9cc068" stroke-width="1.6"/>
<text x="587.40" y="496.00" font-size="14.26" fill="#7a7a7a" font-weight="bold" textLength="27.91" lengthAdjust="spacingAndGlyphs" stroke="#7a7a7a" stroke-width="0.1">POL</text>
<rect x="567.30" y="507.65" width="68.6" height="22.9" fill="#fff" stroke="#e23a3a" stroke-width="1.6"/>
<text x="587.40" y="521.95" font-size="14.26" fill="#7a7a7a" font-weight="bold" textLength="27.91" lengthAdjust="spacingAndGlyphs" stroke="#7a7a7a" stroke-width="0.1">POL</text>
<rect x="640.40" y="432.50" width="83" height="83" fill="#1e1e1e"/>
<rect x="641.80" y="433.90" width="80.2" height="80.2" fill="#595959"/>
<rect x="645.60" y="437.30" width="72.6" height="73" fill="#fff"/>
<rect x="664.60" y="437.40" width="3.6" height="8.4" rx="1" fill="#111"/>
<rect x="664.60" y="501.90" width="3.6" height="8.4" rx="1" fill="#111"/>
<rect x="645.60" y="456.90" width="8" height="3.6" rx="1" fill="#111"/>
<rect x="710.00" y="456.90" width="8" height="3.6" rx="1" fill="#111"/>
<rect x="674.20" y="437.40" width="3.6" height="8.4" rx="1" fill="#111"/>
<rect x="674.20" y="501.90" width="3.6" height="8.4" rx="1" fill="#111"/>
<rect x="645.60" y="466.50" width="8" height="3.6" rx="1" fill="#111"/>
<rect x="710.00" y="466.50" width="8" height="3.6" rx="1" fill="#111"/>
<rect x="683.80" y="437.40" width="3.6" height="8.4" rx="1" fill="#111"/>
<rect x="683.80" y="501.90" width="3.6" height="8.4" rx="1" fill="#111"/>
<rect x="645.60" y="476.10" width="8" height="3.6" rx="1" fill="#111"/>
<rect x="710.00" y="476.10" width="8" height="3.6" rx="1" fill="#111"/>
<rect x="693.40" y="437.40" width="3.6" height="8.4" rx="1" fill="#111"/>
<rect x="693.40" y="501.90" width="3.6" height="8.4" rx="1" fill="#111"/>
<rect x="645.60" y="485.70" width="8" height="3.6" rx="1" fill="#111"/>
<rect x="710.00" y="485.70" width="8" height="3.6" rx="1" fill="#111"/>
<rect x="658.00" y="450.10" width="47.6" height="46.9" rx="5.5" fill="#050505"/>
<rect x="666.40" y="454.80" width="8" height="7.5" fill="#fff"/>
<rect x="666.40" y="468.70" width="8" height="7.5" fill="#fff"/>
<path d="M674.00 458.40 H679.80 V466.80 H690.00 M674.00 460.10 H678.20 V468.50 H690.00" stroke="#fff" stroke-width="0.9" fill="none"/>
<path d="M674.00 472.40 H690.00" stroke="#fff" stroke-width="1.5" fill="none"/>
<path d="M688.60 463.80 C694.00 463.60 697.80 466.10 697.80 469.80 C697.80 473.50 694.00 475.90 688.60 475.70 C690.40 472.10 690.40 467.50 688.60 463.80 Z" fill="#fff"/>
<text x="664.70" y="490.40" font-size="11.51" fill="#fff" font-weight="normal" textLength="34.68" lengthAdjust="spacingAndGlyphs" stroke="#fff" stroke-width="0.55">FPGAs</text>
<rect x="478.30" y="433.80" width="64.2" height="39.2" fill="#6d8d7d"/>
<rect x="479.20" y="434.70" width="62.4" height="37.4" fill="#2d5b3d"/>
<rect x="480.10" y="435.60" width="60.6" height="35.6" fill="none" stroke="#4f7a60" stroke-width="0.6"/>
<rect x="489.10" y="436.10" width="42.1" height="34.4" fill="#262626"/>
<rect x="481.30" y="437.30" width="6.6" height="4" fill="#f4f4f0"/>
<rect x="481.30" y="438.10" width="6.6" height="2.40" fill="#e8e8e2"/>
<rect x="481.30" y="447.60" width="6.6" height="4" fill="#f4f4f0"/>
<rect x="481.30" y="448.40" width="6.6" height="2.40" fill="#e8e8e2"/>
<rect x="481.30" y="454.20" width="6.6" height="12.8" fill="#d6d0c8"/>
<rect x="481.30" y="455.70" width="6.6" height="9.80" fill="#8c7262"/>
<rect x="532.60" y="439.60" width="7.4" height="11.4" fill="#d6d0c8"/>
<rect x="532.60" y="441.10" width="7.4" height="8.40" fill="#8c7262"/>
<rect x="532.60" y="456.40" width="7.4" height="12.8" fill="#d6d0c8"/>
<rect x="532.60" y="457.90" width="7.4" height="9.80" fill="#8c7262"/>
<path d="M230.6 321 V501.7 M230.6 365.2 H347 M230.6 410.8 H390 M230.6 456.7 H434 M229.3 501.7 H476" stroke="#f3002e" stroke-width="2.8" fill="none"/>
<path d="M334.26 359.10 L345.46 365.20 L334.26 371.30" stroke="#f3002e" stroke-width="3" fill="none" stroke-linecap="round" stroke-linejoin="miter"/>
<path d="M377.46 404.70 L388.66 410.80 L377.46 416.90" stroke="#f3002e" stroke-width="3" fill="none" stroke-linecap="round" stroke-linejoin="miter"/>
<path d="M421.26 450.50 L432.46 456.60 L421.26 462.70" stroke="#f3002e" stroke-width="3" fill="none" stroke-linecap="round" stroke-linejoin="miter"/>
<path d="M463.06 495.20 L474.26 501.30 L463.06 507.40" stroke="#f3002e" stroke-width="3" fill="none" stroke-linecap="round" stroke-linejoin="miter"/>
<line x1="413.50" y1="355.3" x2="435.7" y2="355.3" stroke="#ffbb00" stroke-width="2.9"/>
<path d="M423.41 348.90 L433.91 355.30 L423.41 361.70" stroke="#ffbb00" stroke-width="2.9" fill="none" stroke-linecap="round" stroke-linejoin="miter"/>
<line x1="456.60" y1="385.8" x2="478.9" y2="385.8" stroke="#ffbb00" stroke-width="2.9"/>
<path d="M466.61 379.40 L477.11 385.80 L466.61 392.20" stroke="#ffbb00" stroke-width="2.9" fill="none" stroke-linecap="round" stroke-linejoin="miter"/>
<line x1="499.40" y1="416.4" x2="521.8" y2="416.4" stroke="#ffbb00" stroke-width="2.9"/>
<path d="M509.51 410.00 L520.01 416.40 L509.51 422.80" stroke="#ffbb00" stroke-width="2.9" fill="none" stroke-linecap="round" stroke-linejoin="miter"/>
<line x1="542.30" y1="446.2" x2="564.2" y2="446.2" stroke="#ffbb00" stroke-width="2.9"/>
<path d="M551.91 439.80 L562.41 446.20 L551.91 452.60" stroke="#ffbb00" stroke-width="2.9" fill="none" stroke-linecap="round" stroke-linejoin="miter"/>
<text x="410.40" y="339.30" font-size="14.26" fill="#111" font-weight="normal" textLength="24.79" lengthAdjust="spacingAndGlyphs" stroke="#111" stroke-width="0.35">12V</text>
<text x="453.10" y="369.70" font-size="14.26" fill="#111" font-weight="normal" textLength="24.89" lengthAdjust="spacingAndGlyphs" stroke="#111" stroke-width="0.35">12V</text>
<text x="496.50" y="399.70" font-size="13.97" fill="#111" font-weight="normal" textLength="24.39" lengthAdjust="spacingAndGlyphs" stroke="#111" stroke-width="0.35">12V</text>
<text x="539.70" y="430.10" font-size="14.12" fill="#111" font-weight="normal" textLength="24.39" lengthAdjust="spacingAndGlyphs" stroke="#111" stroke-width="0.35">12V</text>
<rect x="72.7" y="473.1" width="140" height="59" fill="#fff" stroke="#00ad4e" stroke-width="3.9"/>
<text x="99.30" y="490.10" font-size="14.12" fill="#7f7f7f" font-weight="normal" textLength="86.89" lengthAdjust="spacingAndGlyphs">MYC0409-NA</text>
<text x="103.70" y="505.80" font-size="14.12" fill="#7f7f7f" font-weight="normal" textLength="78.17" lengthAdjust="spacingAndGlyphs">48Vin-12Vo</text>
<text x="95.40" y="521.80" font-size="14.26" fill="#ff0000" font-weight="bold" textLength="95.72" lengthAdjust="spacingAndGlyphs">Charge Pump</text>
<line x1="214.5" y1="502.7" x2="479" y2="453" stroke="#505050" stroke-width="1"/>
</svg>
</body></html>
